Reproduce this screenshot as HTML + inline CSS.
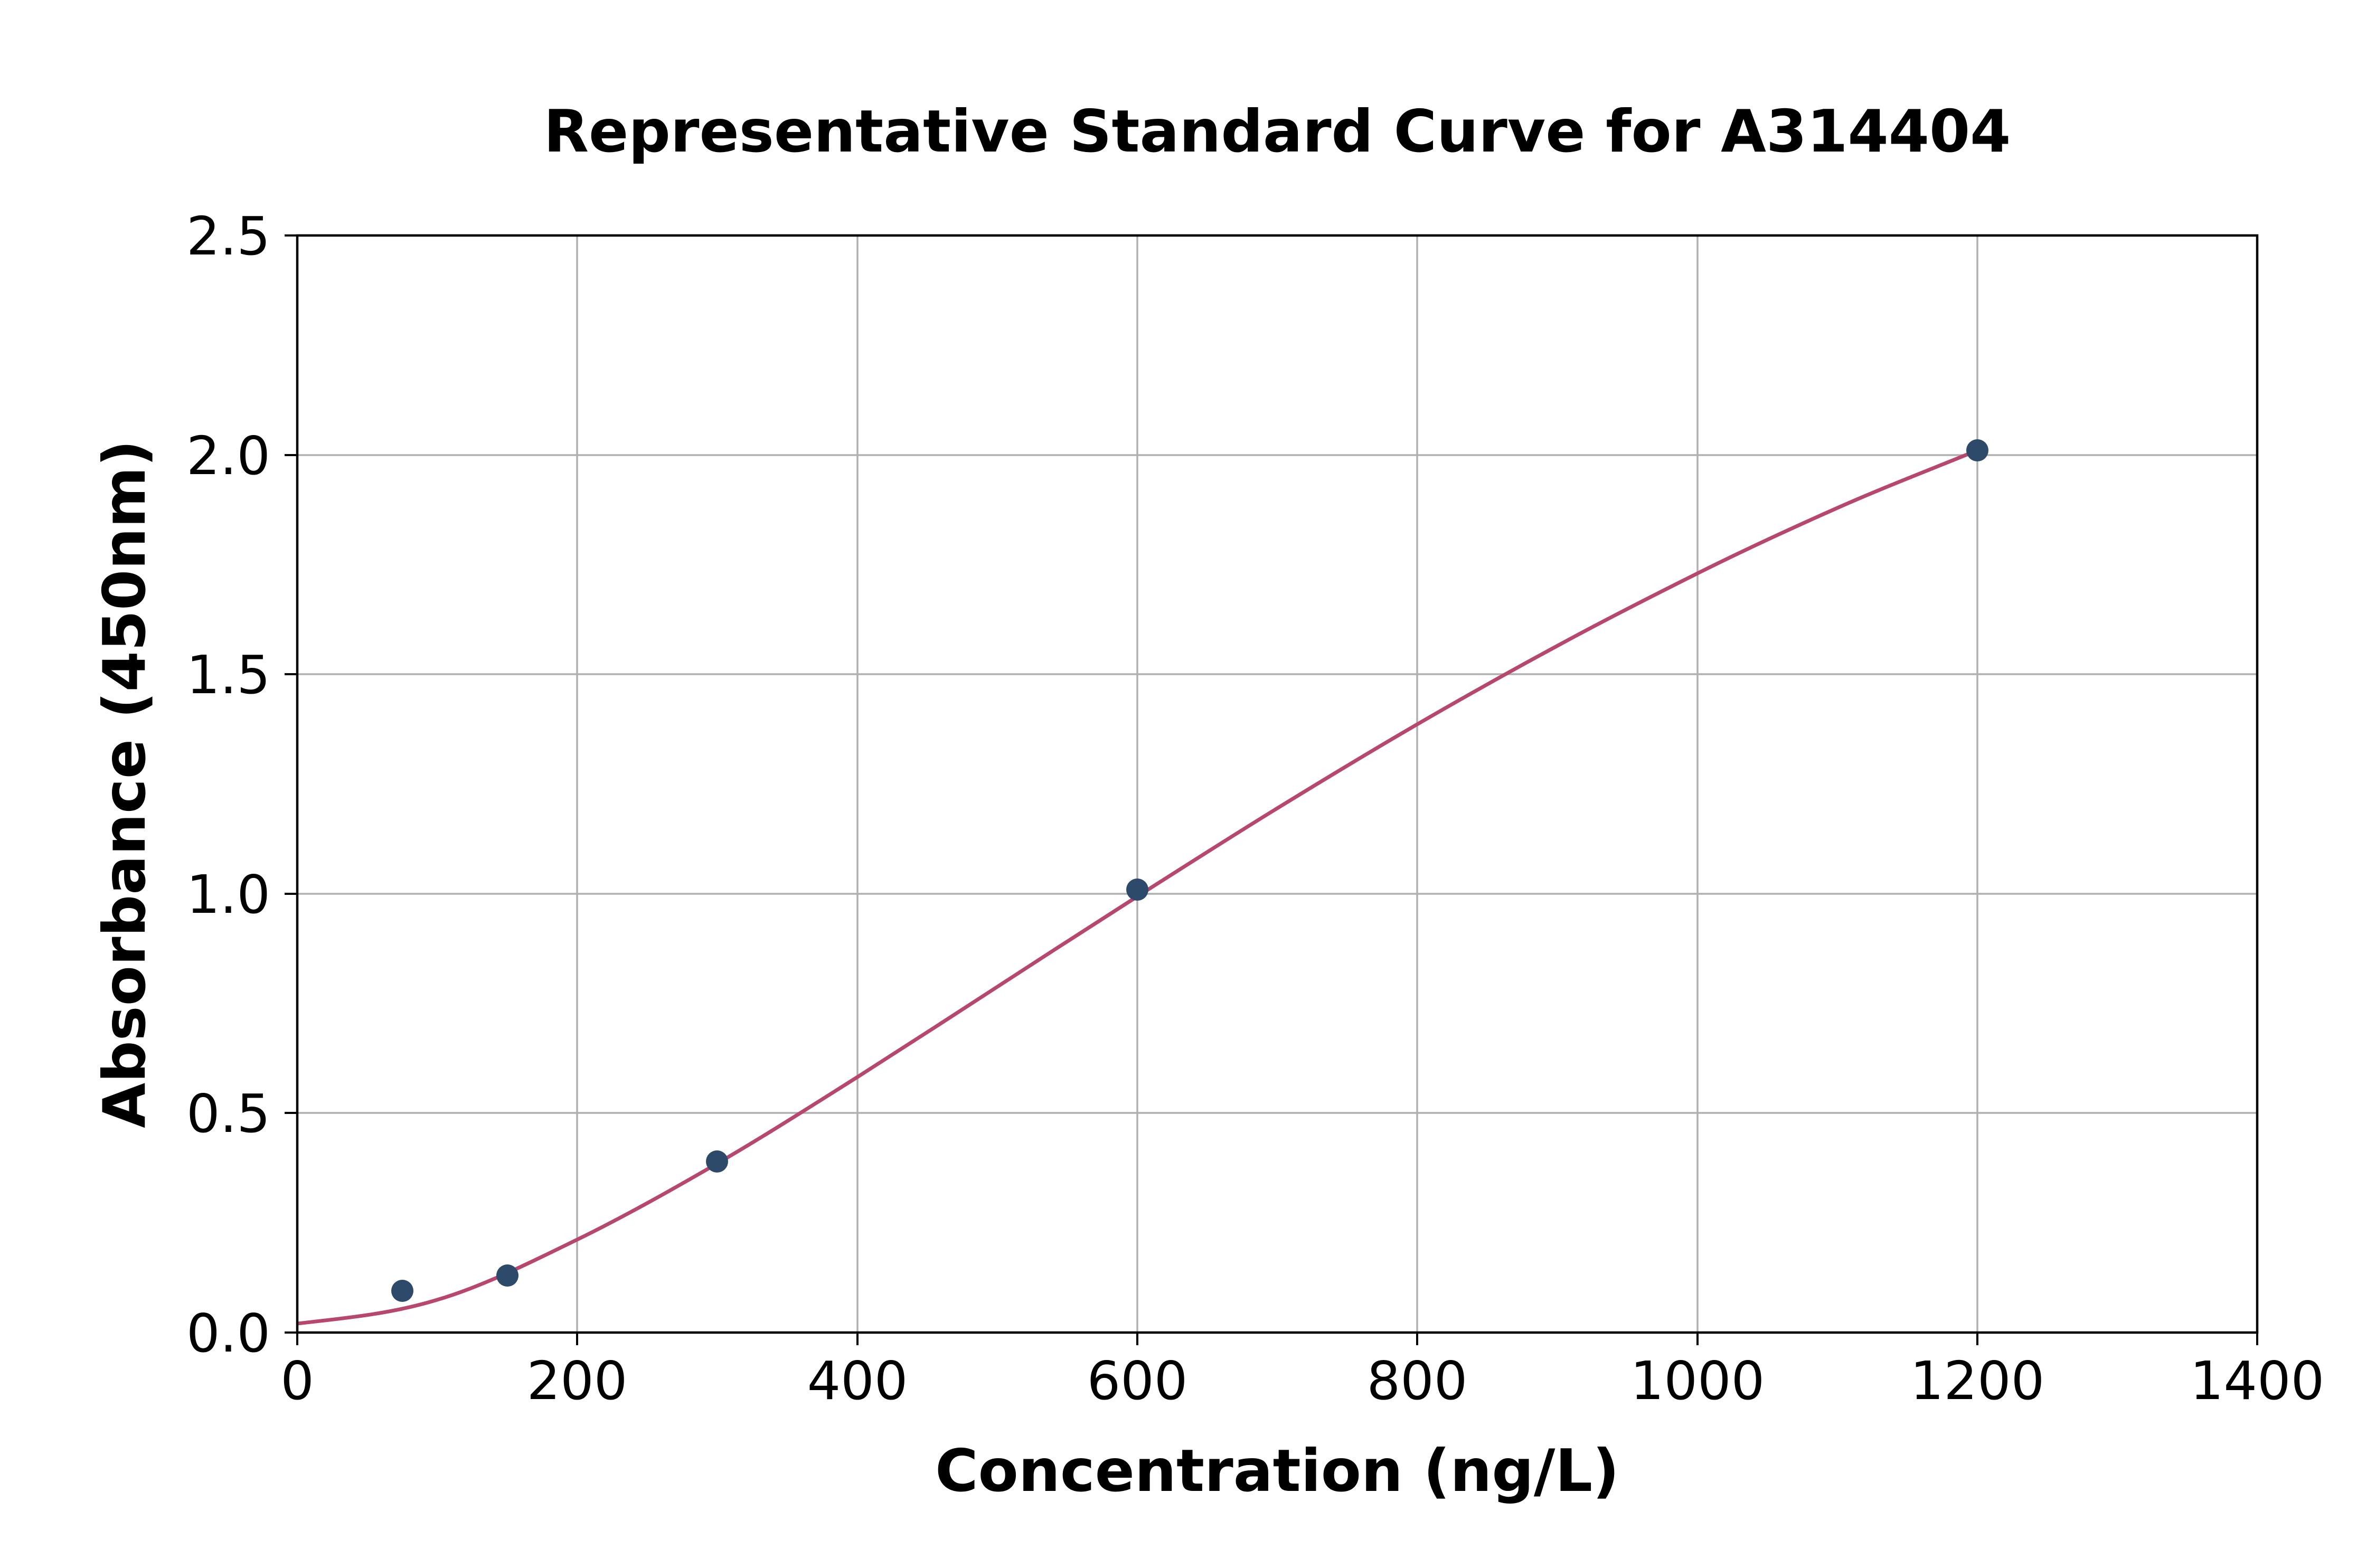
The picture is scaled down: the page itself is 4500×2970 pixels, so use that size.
<!DOCTYPE html>
<html><head><style>body{margin:0;background:#fff}svg{display:block}</style></head><body>
<svg width="4500" height="2970" xmlns="http://www.w3.org/2000/svg" font-family="DejaVu Sans, Liberation Sans, sans-serif">
<rect width="4500" height="2970" fill="#fff"/>
<g stroke="#b0b0b0" stroke-width="3.5">
<line x1="1093" y1="446" x2="1093" y2="2524"/><line x1="1624" y1="446" x2="1624" y2="2524"/>
<line x1="2154" y1="446" x2="2154" y2="2524"/><line x1="2684" y1="446" x2="2684" y2="2524"/>
<line x1="3215" y1="446" x2="3215" y2="2524"/><line x1="3745" y1="446" x2="3745" y2="2524"/>
<line x1="563" y1="2108" x2="4275" y2="2108"/><line x1="563" y1="1693" x2="4275" y2="1693"/>
<line x1="563" y1="1277" x2="4275" y2="1277"/><line x1="563" y1="862" x2="4275" y2="862"/>
</g>
<path d="M563,2507 C651,2497 740,2489 828,2462 C916,2436 1005,2391 1093,2348 C1181,2305 1270,2255 1358,2204 C1446,2153 1535,2096 1624,2040 C1712,1984 1801,1926 1889,1869 C1977,1812 2066,1754 2154,1698 C2242,1642 2331,1585 2419,1531 C2507,1477 2596,1423 2684,1372 C2772,1321 2861,1271 2950,1223 C3038,1175 3127,1130 3215,1086 C3303,1042 3392,1001 3480,962 C3568,923 3657,889 3745,853" fill="none" stroke="#b8476f" stroke-width="7"/>
<g fill="#2d4a6b">
<circle cx="762" cy="2445" r="21"/><circle cx="961" cy="2416" r="21"/><circle cx="1358" cy="2200" r="21"/>
<circle cx="2154" cy="1685" r="21"/><circle cx="3745" cy="853" r="21"/>
</g>
<rect x="563" y="446" width="3712" height="2078" fill="none" stroke="#000" stroke-width="4.5"/>
<g stroke="#000" stroke-width="4">
<line x1="563" y1="2524" x2="563" y2="2548"/><line x1="1093" y1="2524" x2="1093" y2="2548"/><line x1="1624" y1="2524" x2="1624" y2="2548"/><line x1="2154" y1="2524" x2="2154" y2="2548"/><line x1="2684" y1="2524" x2="2684" y2="2548"/><line x1="3215" y1="2524" x2="3215" y2="2548"/><line x1="3745" y1="2524" x2="3745" y2="2548"/><line x1="4275" y1="2524" x2="4275" y2="2548"/>
<line x1="539" y1="2524" x2="563" y2="2524"/><line x1="539" y1="2108" x2="563" y2="2108"/><line x1="539" y1="1693" x2="563" y2="1693"/><line x1="539" y1="1277" x2="563" y2="1277"/><line x1="539" y1="862" x2="563" y2="862"/><line x1="539" y1="446" x2="563" y2="446"/>
</g>
<g font-size="100" text-anchor="middle" fill="#000">
<text x="563" y="2650">0</text><text x="1093" y="2650">200</text><text x="1624" y="2650">400</text><text x="2154" y="2650">600</text><text x="2684" y="2650">800</text><text x="3215" y="2650">1000</text><text x="3745" y="2650">1200</text><text x="4275" y="2650">1400</text>
</g>
<g font-size="100" text-anchor="end" fill="#000">
<text x="512" y="2560">0.0</text><text x="512" y="2144">0.5</text><text x="512" y="1729">1.0</text><text x="512" y="1313">1.5</text><text x="512" y="898">2.0</text><text x="512" y="482">2.5</text>
</g>
<text x="2419" y="287" font-size="111" font-weight="bold" text-anchor="middle">Representative Standard Curve for A314404</text>
<text x="2419" y="2824" font-size="111" font-weight="bold" text-anchor="middle">Concentration (ng/L)</text>
<text transform="translate(274,1485) rotate(-90)" font-size="111" font-weight="bold" text-anchor="middle">Absorbance (450nm)</text>
</svg>
</body></html>
